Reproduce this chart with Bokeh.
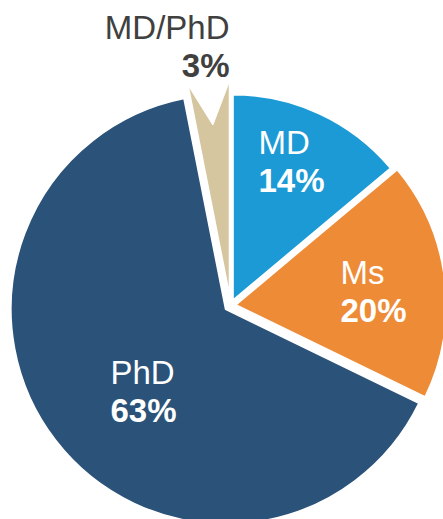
import math
from bokeh.plotting import figure
from bokeh.models import ColumnDataSource, Range1d
from bokeh.core.properties import value
from bokeh.embed import file_html
from bokeh.resources import INLINE

# ---- data (slice sizes as drawn in the picture, in % of the circle) ----
categories = ["MD", "Ms", "PhD", "MD/PhD"]
shares = [13.9, 18.3, 64.7, 3.1]
pct_labels = ["14%", "20%", "63%", "3%"]

# ---- styles ----
colors = ["#1b9ad6", "#ee8b37", "#2b5279", "#d6c6a0"]
label_colors = ["white", "white", "white", "#404040"]
label_align = ["left", "left", "left", "right"]
# label anchor (line-1) relative to pie centre, in screen px (dx right, dy down)
label_offsets = [(28, -163), (110, -33), (-120, 67), (-1, -278)]
explode = [5.5, 5, 6, 8]
radii = [206, 211, 215, 214]
FONT = "Liberation Sans"
FS = "33px"
LINE_GAP = 38

W, H = 443, 519
p = figure(width=W, height=H, x_range=Range1d(0, W), y_range=Range1d(0, H),
           output_backend="svg", toolbar_location=None, min_border=0)
p.axis.visible = False
p.grid.visible = False
p.outline_line_color = None
p.background_fill_color = "white"
p.border_fill_color = "white"

cx, cy = 230, H - 305

total = float(sum(shares))
xs, ys, starts, ends, mids = [], [], [], [], []
a = math.pi / 2
for s, d in zip(shares, explode):
    end = a
    start = a - s / total * 2 * math.pi
    mid = (start + end) / 2
    xs.append(cx + d * math.cos(mid))
    ys.append(cy + d * math.sin(mid))
    starts.append(start)
    ends.append(end)
    mids.append(mid)
    a = start

src = ColumnDataSource(dict(x=xs, y=ys, r=radii, start=starts, end=ends,
                            color=colors, cat=categories))
p.wedge(x="x", y="y", radius="r", start_angle="start", end_angle="end",
        fill_color="color", line_color="white", line_width=2, source=src)

# V-shaped notch on the small MD/PhD slice
i = 3
bx, by, R = xs[i], ys[i], radii[i]
rr = R + 3
notch_x = [bx + rr * math.cos(starts[i]), bx + 0.81 * R * math.cos(mids[i]), bx + rr * math.cos(ends[i])]
notch_y = [by + rr * math.sin(starts[i]), by + 0.81 * R * math.sin(mids[i]), by + rr * math.sin(ends[i])]
p.patch(notch_x, notch_y, fill_color="white", line_color="white", line_width=1)

for k in range(len(categories)):
    dx, dy = label_offsets[k]
    lx, ly = cx + dx, cy - dy
    p.text(x=[lx], y=[ly], text=[categories[k]], text_font=value(FONT),
           text_font_size=FS, text_color=label_colors[k], text_align=label_align[k],
           text_baseline="alphabetic")
    p.text(x=[lx], y=[ly - LINE_GAP], text=[pct_labels[k]], text_font=value(FONT),
           text_font_size=FS, text_font_style="bold", text_color=label_colors[k],
           text_align=label_align[k], text_baseline="alphabetic")

open("out.html", "w").write(file_html(p, INLINE))
